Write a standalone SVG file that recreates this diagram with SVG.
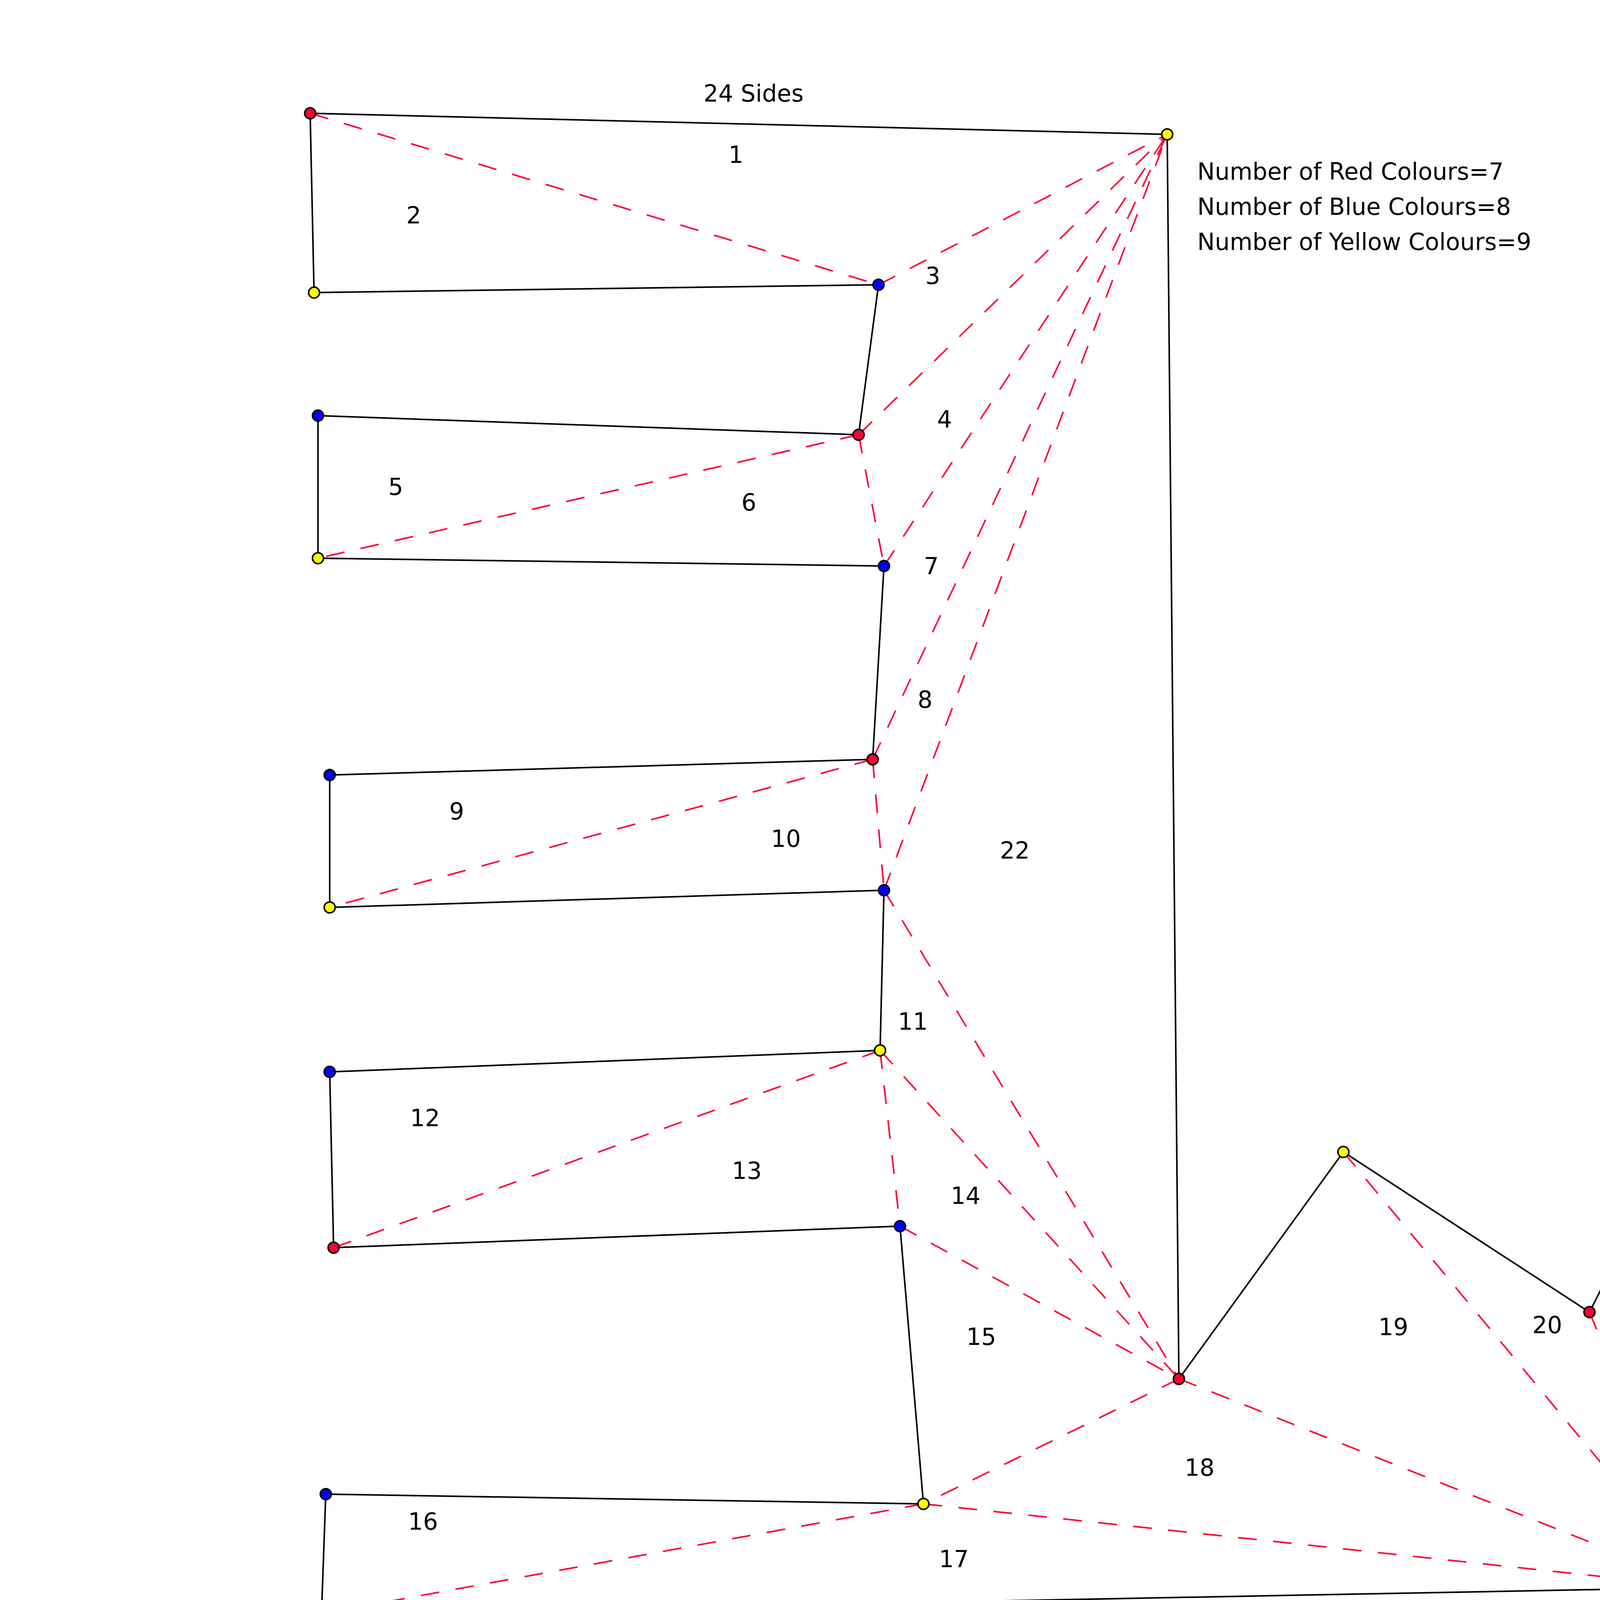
<svg xmlns="http://www.w3.org/2000/svg" width="5604" height="4499" viewBox="0 0 5604 4499">
<style>
.side{stroke:#000;stroke-width:4;fill:none}
.diag{stroke:#ff0033;stroke-width:4;fill:none;stroke-dasharray:48 42}
.n{stroke:#000;stroke-width:4}
.r{fill:#ff0033}
.b{fill:#0000ff}
.y{fill:#ffff00}
.py{fill:#ffff99}
text{font-family:"DejaVu Sans","Liberation Sans",sans-serif;font-size:60px;fill:#000}
.c{text-anchor:middle}
</style>
<rect width="5604" height="4499" fill="#fff"/>
<g id="connectors">
<g id="sides">
<line class="side" x1="794" y1="290" x2="2988" y2="344"/>
<line class="side" x1="794" y1="290" x2="804" y2="749"/>
<line class="side" x1="804" y1="749" x2="2249" y2="729"/>
<line class="side" x1="2249" y1="729" x2="2198" y2="1113"/>
<line class="side" x1="2198" y1="1113" x2="814" y2="1064"/>
<line class="side" x1="814" y1="1064" x2="814" y2="1429"/>
<line class="side" x1="814" y1="1429" x2="2263" y2="1449"/>
<line class="side" x1="2263" y1="1449" x2="2234" y2="1944"/>
<line class="side" x1="2234" y1="1944" x2="844" y2="1984"/>
<line class="side" x1="844" y1="1984" x2="844" y2="2323"/>
<line class="side" x1="844" y1="2323" x2="2263" y2="2279"/>
<line class="side" x1="2263" y1="2279" x2="2253" y2="2689"/>
<line class="side" x1="2253" y1="2689" x2="844" y2="2744"/>
<line class="side" x1="844" y1="2744" x2="854" y2="3194"/>
<line class="side" x1="854" y1="3194" x2="2304" y2="3139"/>
<line class="side" x1="2304" y1="3139" x2="2364" y2="3850"/>
<line class="side" x1="2364" y1="3850" x2="834" y2="3825"/>
<line class="side" x1="834" y1="3825" x2="823" y2="4131"/>
<line class="side" x1="823" y1="4131" x2="4363" y2="4064"/>
<line class="side" x1="4363" y1="4064" x2="4644" y2="2229"/>
<line class="side" x1="4644" y1="2229" x2="4069" y2="3359"/>
<line class="side" x1="4069" y1="3359" x2="3439" y2="2949"/>
<line class="side" x1="3439" y1="2949" x2="3018" y2="3530"/>
<line class="side" x1="3018" y1="3530" x2="2988" y2="344"/>
</g>
<g id="diagonals">
<line class="diag" x1="794" y1="290" x2="2249" y2="729"/>
<line class="diag" x1="2249" y1="729" x2="2988" y2="344"/>
<line class="diag" x1="2198" y1="1113" x2="2988" y2="344"/>
<line class="diag" x1="2198" y1="1113" x2="814" y2="1429"/>
<line class="diag" x1="2198" y1="1113" x2="2263" y2="1449"/>
<line class="diag" x1="2263" y1="1449" x2="2988" y2="344"/>
<line class="diag" x1="2234" y1="1944" x2="2988" y2="344"/>
<line class="diag" x1="2234" y1="1944" x2="844" y2="2323"/>
<line class="diag" x1="2234" y1="1944" x2="2263" y2="2279"/>
<line class="diag" x1="2263" y1="2279" x2="2988" y2="344"/>
<line class="diag" x1="2263" y1="2279" x2="3018" y2="3530"/>
<line class="diag" x1="2253" y1="2689" x2="854" y2="3194"/>
<line class="diag" x1="2253" y1="2689" x2="2304" y2="3139"/>
<line class="diag" x1="2253" y1="2689" x2="3018" y2="3530"/>
<line class="diag" x1="2304" y1="3139" x2="3018" y2="3530"/>
<line class="diag" x1="3018" y1="3530" x2="2364" y2="3850"/>
<line class="diag" x1="2364" y1="3850" x2="823" y2="4131"/>
<line class="diag" x1="2364" y1="3850" x2="4363" y2="4064"/>
<line class="diag" x1="3018" y1="3530" x2="4363" y2="4064"/>
<line class="diag" x1="3439" y1="2949" x2="4363" y2="4064"/>
<line class="diag" x1="4069" y1="3359" x2="4363" y2="4064"/>
</g>
</g>
<g id="nodes">
<g id="n1"><circle class="n r" cx="794" cy="290" r="14"/></g>
<g id="n2"><circle class="n y" cx="2988" cy="344" r="14"/></g>
<g id="n3"><circle class="n y" cx="804" cy="749" r="14"/></g>
<g id="n4"><circle class="n b" cx="2249" cy="729" r="14"/></g>
<g id="n5"><circle class="n b" cx="814" cy="1064" r="14"/></g>
<g id="n6"><circle class="n r" cx="2198" cy="1113" r="14"/></g>
<g id="n7"><circle class="n y" cx="814" cy="1429" r="14"/></g>
<g id="n8"><circle class="n b" cx="2263" cy="1449" r="14"/></g>
<g id="n9"><circle class="n b" cx="844" cy="1984" r="14"/></g>
<g id="n10"><circle class="n r" cx="2234" cy="1944" r="14"/></g>
<g id="n11"><circle class="n y" cx="844" cy="2323" r="14"/></g>
<g id="n12"><circle class="n b" cx="2263" cy="2279" r="14"/></g>
<g id="n13"><circle class="n b" cx="844" cy="2744" r="14"/></g>
<g id="n14"><circle class="n y" cx="2253" cy="2689" r="14"/></g>
<g id="n15"><circle class="n r" cx="854" cy="3194" r="14"/></g>
<g id="n16"><circle class="n b" cx="2304" cy="3139" r="14"/></g>
<g id="n17"><circle class="n b" cx="834" cy="3825" r="14"/></g>
<g id="n18"><circle class="n y" cx="2364" cy="3850" r="14"/></g>
<g id="n19"><circle class="n r" cx="823" cy="4131" r="14"/></g>
<g id="n20"><circle class="n b" cx="4363" cy="4064" r="14"/></g>
<g id="n21"><circle class="n r" cx="3018" cy="3530" r="14"/></g>
<g id="n22"><circle class="n y" cx="3439" cy="2949" r="14"/></g>
<g id="n23"><circle class="n r" cx="4069" cy="3359" r="14"/></g>
<g id="n24"><circle class="n py" cx="4644" cy="2229" r="14"/></g>
</g>
<g id="labels">
<text class="c" x="1929" y="260">24 Sides</text>
<text class="c" x="1884" y="417">1</text>
<text class="c" x="1059" y="572">2</text>
<text class="c" x="2388" y="727">3</text>
<text class="c" x="2418" y="1094">4</text>
<text class="c" x="1013" y="1267">5</text>
<text class="c" x="1917" y="1307">6</text>
<text class="c" x="2384" y="1470">7</text>
<text class="c" x="2368" y="1812">8</text>
<text class="c" x="1169" y="2098">9</text>
<text class="c" x="2012" y="2168">10</text>
<text class="c" x="2337" y="2636">11</text>
<text class="c" x="1088" y="2883">12</text>
<text class="c" x="1912" y="3018">13</text>
<text class="c" x="2472" y="3082">14</text>
<text class="c" x="2512" y="3443">15</text>
<text class="c" x="1083" y="3916">16</text>
<text class="c" x="2442" y="4012">17</text>
<text class="c" x="3071" y="3778">18</text>
<text class="c" x="3567" y="3418">19</text>
<text class="c" x="3961" y="3413">20</text>
<text class="c" x="4276" y="3328">21</text>
<text class="c" x="2598" y="2198">22</text>
<text x="3065" y="460">Number of Red Colours=7</text>
<text x="3065" y="550">Number of Blue Colours=8</text>
<text x="3065" y="640">Number of Yellow Colours=9</text>
</g>
</svg>
